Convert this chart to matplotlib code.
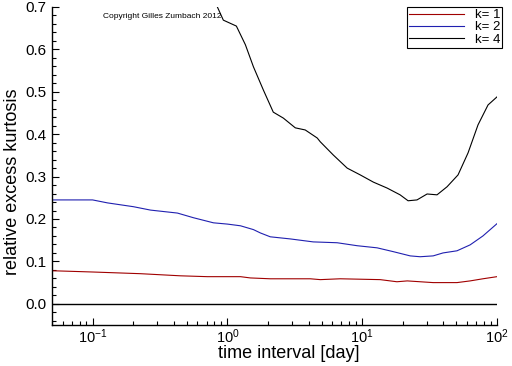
import matplotlib
matplotlib.use("Agg")
import matplotlib.pyplot as plt
from matplotlib.ticker import MultipleLocator, LogLocator, NullFormatter

plt.rcParams['font.family'] = ['Liberation Sans', 'DejaVu Sans']
plt.rcParams['mathtext.fontset'] = 'custom'
plt.rcParams['mathtext.rm'] = 'Liberation Sans'
plt.rcParams['mathtext.it'] = 'Liberation Sans'

# k = 1 (red)
x_k1 = [0.05, 0.1, 0.227, 0.449, 0.711, 1.25, 1.48, 2.08, 4.12, 4.89, 6.87,
        13.6, 18.1, 21.6, 26.9, 33.6, 50.5, 63.2, 78.6, 100]
y_k1 = [0.078, 0.075, 0.071, 0.066, 0.064, 0.064, 0.061, 0.059, 0.059, 0.057,
        0.059, 0.057, 0.052, 0.054, 0.052, 0.050, 0.050, 0.054, 0.059, 0.064]

# k = 2 (blue)
x_k2 = [0.05, 0.1, 0.129, 0.201, 0.269, 0.426, 0.56, 0.788, 1.0, 1.25, 1.56,
        1.76, 2.08, 2.93, 4.33, 6.52, 9.17, 12.9, 17.0, 22.7, 26.9, 33.6,
        39.8, 50.5, 63.2, 78.6, 100]
y_k2 = [0.245, 0.245, 0.238, 0.229, 0.221, 0.214, 0.203, 0.191, 0.188, 0.184,
        0.175, 0.167, 0.158, 0.153, 0.146, 0.144, 0.137, 0.132, 0.123, 0.113,
        0.111, 0.113, 0.120, 0.125, 0.139, 0.160, 0.189]

# k = 4 (black)
x_k4 = [0.80, 0.843, 0.933, 1.166, 1.36, 1.56, 1.85, 2.19, 2.60, 3.19, 3.78,
        4.64, 4.89, 6.10, 7.74, 9.67, 12.1, 15.3, 19.1, 21.9, 25.5, 30.3,
        35.9, 42.6, 51.4, 61.0, 72.3, 85.8, 100]
y_k4 = [0.72, 0.700, 0.669, 0.655, 0.611, 0.559, 0.504, 0.452, 0.438, 0.415,
        0.410, 0.391, 0.382, 0.351, 0.320, 0.304, 0.287, 0.273, 0.257, 0.243,
        0.245, 0.259, 0.257, 0.276, 0.304, 0.356, 0.422, 0.469, 0.488]

labels = ["k= 1", "k= 2", "k= 4"]
colors = ["#a00000", "#2020b0", "black"]

fig = plt.figure(figsize=(5.12, 3.66), dpi=100)
ax = fig.add_axes([52/512, 1-325/366, (497-52)/512, (325-7)/366])

ax.plot(x_k1, y_k1, color=colors[0], lw=0.8, label=labels[0])
ax.plot(x_k2, y_k2, color=colors[1], lw=0.8, label=labels[1])
ax.plot(x_k4, y_k4, color=colors[2], lw=0.8, label=labels[2])
ax.axhline(0.0, color='black', lw=1.0)

ax.set_xscale('log')
ax.set_xlim(0.05, 100)
ax.set_ylim(-0.05, 0.7)
ax.yaxis.set_major_locator(MultipleLocator(0.1))
ax.yaxis.set_minor_locator(MultipleLocator(0.02))
ax.yaxis.set_major_formatter(matplotlib.ticker.FormatStrFormatter('%.1f'))
ax.xaxis.set_major_locator(LogLocator(base=10, numticks=10))
ax.xaxis.set_minor_locator(LogLocator(base=10, subs=range(2, 10), numticks=20))
ax.xaxis.set_minor_formatter(NullFormatter())

for s in ['top', 'right']:
    ax.spines[s].set_visible(False)
ax.spines['left'].set_linewidth(1.0)
ax.spines['bottom'].set_linewidth(1.0)
ax.tick_params(which='both', direction='in', labelsize=11, colors='black')
ax.tick_params(axis='x', labelsize=10.5)
ax.tick_params(which='major', length=5, width=0.8)
ax.tick_params(which='minor', length=3, width=0.8)
ax.tick_params(axis='x', which='major', pad=2)
ax.tick_params(axis='y', which='major', pad=4)

ax.set_xlabel("time interval [day]", fontsize=13)
ax.set_ylabel("relative excess kurtosis", fontsize=13)
ax.xaxis.set_label_coords((289-52)/445, -(345-325)/318)
ax.yaxis.set_label_coords(-(52-21)/445, (325-182)/318)

ax.text(103/512, 1-16/366, "Copyright Gilles Zumbach 2012", transform=fig.transFigure,
        fontsize=6, va='center', ha='left')

leg = ax.legend(loc='upper right', bbox_to_anchor=(502/512, 1-7/366),
                bbox_transform=fig.transFigure, fontsize=9.5, frameon=True,
                fancybox=False, edgecolor='black', framealpha=1,
                handlelength=4.2, handletextpad=0.8, borderpad=0.15,
                labelspacing=0.0, borderaxespad=0)
leg.get_frame().set_linewidth(0.8)

fig.savefig("out.png", dpi=100)
